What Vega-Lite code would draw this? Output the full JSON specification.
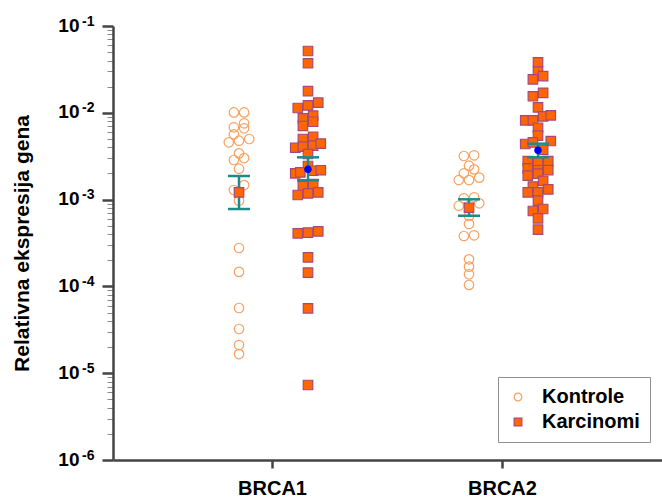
{
  "$schema": "https://vega.github.io/schema/vega-lite/v6.json",
  "width": 549,
  "height": 434,
  "autosize": {"type": "none"},
  "padding": {"left": 113, "top": 26, "right": 0, "bottom": 39},
  "config": {"font": "Liberation Sans", "view": {"stroke": null}},
  "datasets": {
    "pts": [
      {"gene": "BRCA1", "group": "Kontrole", "slot": "K-2", "value": 0.0101},
      {"gene": "BRCA1", "group": "Kontrole", "slot": "K2", "value": 0.0101},
      {"gene": "BRCA1", "group": "Kontrole", "slot": "K2", "value": 0.00757},
      {"gene": "BRCA1", "group": "Kontrole", "slot": "K-2", "value": 0.00681},
      {"gene": "BRCA1", "group": "Kontrole", "slot": "K2", "value": 0.00663},
      {"gene": "BRCA1", "group": "Kontrole", "slot": "K-2", "value": 0.00565},
      {"gene": "BRCA1", "group": "Kontrole", "slot": "K-4", "value": 0.00457},
      {"gene": "BRCA1", "group": "Kontrole", "slot": "K0", "value": 0.00477},
      {"gene": "BRCA1", "group": "Kontrole", "slot": "K4", "value": 0.00499},
      {"gene": "BRCA1", "group": "Kontrole", "slot": "K0", "value": 0.00341},
      {"gene": "BRCA1", "group": "Kontrole", "slot": "K-2", "value": 0.00286},
      {"gene": "BRCA1", "group": "Kontrole", "slot": "K2", "value": 0.00301},
      {"gene": "BRCA1", "group": "Kontrole", "slot": "K0", "value": 0.00227},
      {"gene": "BRCA1", "group": "Kontrole", "slot": "K2", "value": 0.00147},
      {"gene": "BRCA1", "group": "Kontrole", "slot": "K-2", "value": 0.00129},
      {"gene": "BRCA1", "group": "Kontrole", "slot": "K0", "value": 0.000971},
      {"gene": "BRCA1", "group": "Kontrole", "slot": "K0", "value": 0.000277},
      {"gene": "BRCA1", "group": "Kontrole", "slot": "K0", "value": 0.000147},
      {"gene": "BRCA1", "group": "Kontrole", "slot": "K0", "value": 0.0000564},
      {"gene": "BRCA1", "group": "Kontrole", "slot": "K0", "value": 0.0000323},
      {"gene": "BRCA1", "group": "Kontrole", "slot": "K0", "value": 0.0000211},
      {"gene": "BRCA1", "group": "Kontrole", "slot": "K0", "value": 0.0000166},
      {"gene": "BRCA1", "group": "Karcinomi", "slot": "C0", "value": 0.0515},
      {"gene": "BRCA1", "group": "Karcinomi", "slot": "C0", "value": 0.0372},
      {"gene": "BRCA1", "group": "Karcinomi", "slot": "C0", "value": 0.0178},
      {"gene": "BRCA1", "group": "Karcinomi", "slot": "C-4", "value": 0.01136},
      {"gene": "BRCA1", "group": "Karcinomi", "slot": "C0", "value": 0.0122},
      {"gene": "BRCA1", "group": "Karcinomi", "slot": "C4", "value": 0.01307},
      {"gene": "BRCA1", "group": "Karcinomi", "slot": "C-2", "value": 0.00864},
      {"gene": "BRCA1", "group": "Karcinomi", "slot": "C2", "value": 0.00926},
      {"gene": "BRCA1", "group": "Karcinomi", "slot": "C2", "value": 0.00789},
      {"gene": "BRCA1", "group": "Karcinomi", "slot": "C-2", "value": 0.00705},
      {"gene": "BRCA1", "group": "Karcinomi", "slot": "C-2", "value": 0.00499},
      {"gene": "BRCA1", "group": "Karcinomi", "slot": "C2", "value": 0.0053},
      {"gene": "BRCA1", "group": "Karcinomi", "slot": "C-5", "value": 0.00396},
      {"gene": "BRCA1", "group": "Karcinomi", "slot": "C-2", "value": 0.00407},
      {"gene": "BRCA1", "group": "Karcinomi", "slot": "C2", "value": 0.00418},
      {"gene": "BRCA1", "group": "Karcinomi", "slot": "C5", "value": 0.00441},
      {"gene": "BRCA1", "group": "Karcinomi", "slot": "C0", "value": 0.00335},
      {"gene": "BRCA1", "group": "Karcinomi", "slot": "C0", "value": 0.00244},
      {"gene": "BRCA1", "group": "Karcinomi", "slot": "C-5", "value": 0.00201},
      {"gene": "BRCA1", "group": "Karcinomi", "slot": "C-3", "value": 0.00206},
      {"gene": "BRCA1", "group": "Karcinomi", "slot": "C2", "value": 0.00215},
      {"gene": "BRCA1", "group": "Karcinomi", "slot": "C5", "value": 0.00218},
      {"gene": "BRCA1", "group": "Karcinomi", "slot": "C-2", "value": 0.00143},
      {"gene": "BRCA1", "group": "Karcinomi", "slot": "C2", "value": 0.00151},
      {"gene": "BRCA1", "group": "Karcinomi", "slot": "C-4", "value": 0.00113},
      {"gene": "BRCA1", "group": "Karcinomi", "slot": "C0", "value": 0.00118},
      {"gene": "BRCA1", "group": "Karcinomi", "slot": "C4", "value": 0.00121},
      {"gene": "BRCA1", "group": "Karcinomi", "slot": "C-4", "value": 0.000409},
      {"gene": "BRCA1", "group": "Karcinomi", "slot": "C0", "value": 0.000416},
      {"gene": "BRCA1", "group": "Karcinomi", "slot": "C4", "value": 0.000431},
      {"gene": "BRCA1", "group": "Karcinomi", "slot": "C0", "value": 0.000216},
      {"gene": "BRCA1", "group": "Karcinomi", "slot": "C0", "value": 0.000144},
      {"gene": "BRCA1", "group": "Karcinomi", "slot": "C0", "value": 0.0000559},
      {"gene": "BRCA1", "group": "Karcinomi", "slot": "C0", "value": 0.00000731},
      {"gene": "BRCA2", "group": "Kontrole", "slot": "K-2", "value": 0.00318},
      {"gene": "BRCA2", "group": "Kontrole", "slot": "K2", "value": 0.00324},
      {"gene": "BRCA2", "group": "Kontrole", "slot": "K0", "value": 0.00246},
      {"gene": "BRCA2", "group": "Kontrole", "slot": "K-2", "value": 0.00201},
      {"gene": "BRCA2", "group": "Kontrole", "slot": "K2", "value": 0.00223},
      {"gene": "BRCA2", "group": "Kontrole", "slot": "K-4", "value": 0.00168},
      {"gene": "BRCA2", "group": "Kontrole", "slot": "K0", "value": 0.00168},
      {"gene": "BRCA2", "group": "Kontrole", "slot": "K4", "value": 0.00179},
      {"gene": "BRCA2", "group": "Kontrole", "slot": "K-2", "value": 0.001035},
      {"gene": "BRCA2", "group": "Kontrole", "slot": "K2", "value": 0.001063},
      {"gene": "BRCA2", "group": "Kontrole", "slot": "K-4", "value": 0.00085},
      {"gene": "BRCA2", "group": "Kontrole", "slot": "K4", "value": 0.000906},
      {"gene": "BRCA2", "group": "Kontrole", "slot": "K0", "value": 0.000647},
      {"gene": "BRCA2", "group": "Kontrole", "slot": "K0", "value": 0.000524},
      {"gene": "BRCA2", "group": "Kontrole", "slot": "K-2", "value": 0.000381},
      {"gene": "BRCA2", "group": "Kontrole", "slot": "K2", "value": 0.000388},
      {"gene": "BRCA2", "group": "Kontrole", "slot": "K0", "value": 0.000205},
      {"gene": "BRCA2", "group": "Kontrole", "slot": "K0", "value": 0.000169},
      {"gene": "BRCA2", "group": "Kontrole", "slot": "K0", "value": 0.000138},
      {"gene": "BRCA2", "group": "Kontrole", "slot": "K0", "value": 0.000104},
      {"gene": "BRCA2", "group": "Karcinomi", "slot": "C0", "value": 0.0382},
      {"gene": "BRCA2", "group": "Karcinomi", "slot": "C0", "value": 0.0298},
      {"gene": "BRCA2", "group": "Karcinomi", "slot": "C-2", "value": 0.0243},
      {"gene": "BRCA2", "group": "Karcinomi", "slot": "C2", "value": 0.0265},
      {"gene": "BRCA2", "group": "Karcinomi", "slot": "C-2", "value": 0.0155},
      {"gene": "BRCA2", "group": "Karcinomi", "slot": "C2", "value": 0.017},
      {"gene": "BRCA2", "group": "Karcinomi", "slot": "C0", "value": 0.01157},
      {"gene": "BRCA2", "group": "Karcinomi", "slot": "C-5", "value": 0.00819},
      {"gene": "BRCA2", "group": "Karcinomi", "slot": "C-2", "value": 0.00819},
      {"gene": "BRCA2", "group": "Karcinomi", "slot": "C2", "value": 0.00911},
      {"gene": "BRCA2", "group": "Karcinomi", "slot": "C5", "value": 0.00936},
      {"gene": "BRCA2", "group": "Karcinomi", "slot": "C0", "value": 0.00673},
      {"gene": "BRCA2", "group": "Karcinomi", "slot": "C0", "value": 0.00545},
      {"gene": "BRCA2", "group": "Karcinomi", "slot": "C-5", "value": 0.00437},
      {"gene": "BRCA2", "group": "Karcinomi", "slot": "C-2", "value": 0.00457},
      {"gene": "BRCA2", "group": "Karcinomi", "slot": "C5", "value": 0.00473},
      {"gene": "BRCA2", "group": "Karcinomi", "slot": "C2", "value": 0.00373},
      {"gene": "BRCA2", "group": "Karcinomi", "slot": "C-4", "value": 0.00278},
      {"gene": "BRCA2", "group": "Karcinomi", "slot": "C-4", "value": 0.00229},
      {"gene": "BRCA2", "group": "Karcinomi", "slot": "C-4", "value": 0.001885},
      {"gene": "BRCA2", "group": "Karcinomi", "slot": "C0", "value": 0.00269},
      {"gene": "BRCA2", "group": "Karcinomi", "slot": "C0", "value": 0.00218},
      {"gene": "BRCA2", "group": "Karcinomi", "slot": "C0", "value": 0.00199},
      {"gene": "BRCA2", "group": "Karcinomi", "slot": "C4", "value": 0.00278},
      {"gene": "BRCA2", "group": "Karcinomi", "slot": "C4", "value": 0.00219},
      {"gene": "BRCA2", "group": "Karcinomi", "slot": "C2", "value": 0.00164},
      {"gene": "BRCA2", "group": "Karcinomi", "slot": "C-2", "value": 0.00141},
      {"gene": "BRCA2", "group": "Karcinomi", "slot": "C-4", "value": 0.00121},
      {"gene": "BRCA2", "group": "Karcinomi", "slot": "C0", "value": 0.00121},
      {"gene": "BRCA2", "group": "Karcinomi", "slot": "C4", "value": 0.00131},
      {"gene": "BRCA2", "group": "Karcinomi", "slot": "C0", "value": 0.000971},
      {"gene": "BRCA2", "group": "Karcinomi", "slot": "C-2", "value": 0.000739},
      {"gene": "BRCA2", "group": "Karcinomi", "slot": "C2", "value": 0.000779},
      {"gene": "BRCA2", "group": "Karcinomi", "slot": "C0", "value": 0.000609},
      {"gene": "BRCA2", "group": "Karcinomi", "slot": "C0", "value": 0.00045}
    ],
    "summary": [
      {"gene": "BRCA1", "group": "Kontrole", "slot": "K0", "mean": 0.00121, "lo": 0.000779, "hi": 0.00187},
      {"gene": "BRCA1", "group": "Karcinomi", "slot": "C0", "mean": 0.00223, "lo": 0.00167, "hi": 0.00307},
      {"gene": "BRCA2", "group": "Kontrole", "slot": "K0", "mean": 0.000806, "lo": 0.000652, "hi": 0.001008},
      {"gene": "BRCA2", "group": "Karcinomi", "slot": "C0", "mean": 0.0037, "lo": 0.00307, "hi": 0.00441}
    ]
  },
  "resolve": {"axis": {"y": "independent"}},
  "encoding": {
    "x": {
      "field": "gene",
      "type": "nominal",
      "scale": {"type": "band", "paddingInner": 0, "paddingOuter": 0.1935},
      "axis": {
        "title": null,
        "labelAngle": 0,
        "labelFontSize": 20,
        "labelFontWeight": "bold",
        "labelColor": "black",
        "labelPadding": 10,
        "domainColor": "#444444",
        "domainWidth": 2.5,
        "tickColor": "#444444",
        "tickWidth": 2.5,
        "tickSize": 8
      }
    },
    "xOffset": {
      "field": "slot",
      "type": "nominal",
      "scale": {
        "type": "point",
        "padding": 0,
        "domain": ["K-4", "K-3", "K-2", "K-1", "K0", "K1", "K2", "K3", "K4", "s9", "s10", "s11", "s12", "s13", "s14", "s15", "s16", "s17", "s18", "s19", "s20", "s21", "s22", "s23", "s24", "C-6", "C-5", "C-4", "C-3", "C-2", "C-1", "C0", "C1", "C2", "C3", "C4", "C5", "C6"],
        "range": [71.28, 165.84]
      }
    }
  },
  "layer": [
    {
      "data": {"name": "pts"},
      "mark": {"type": "point", "size": 90, "strokeWidth": 1.2, "opacity": 1},
      "encoding": {
        "y": {
          "field": "value",
          "type": "quantitative",
          "scale": {"type": "log", "domain": [0.000001, 0.1], "nice": false},
          "axis": {
            "orient": "left",
            "title": "Relativna ekspresija gena",
            "titleFontSize": 21,
            "titleFontWeight": "bold",
            "titleColor": "black",
            "titleX": -91,
            "titleY": 217,
            "titleAngle": -90,
            "titleAlign": "center",
            "titleBaseline": "middle",
            "grid": false,
            "values": [0.000001, 0.000002, 0.000003, 0.000004, 0.000005, 0.000006, 0.000007, 0.000008, 0.000009, 0.00001, 0.00002, 0.00003, 0.00004, 0.00005, 0.00006, 0.00007, 0.00008, 0.00009, 0.0001, 0.0002, 0.0003, 0.0004, 0.0005, 0.0006, 0.0007, 0.0008, 0.0009, 0.001, 0.002, 0.003, 0.004, 0.005, 0.006, 0.007, 0.008, 0.009, 0.01, 0.02, 0.03, 0.04, 0.05, 0.06, 0.07, 0.08, 0.09, 0.1],
            "labelExpr": "abs(log(datum.value)/LN10 - round(log(datum.value)/LN10)) < 0.001 ? '10' : ''",
            "labelOverlap": false,
            "labelFlush": false,
            "labelFontSize": 19,
            "labelFontWeight": "bold",
            "labelColor": "black",
            "labelPadding": 23,
            "labelOffset": -1,
            "domainColor": "#444444",
            "domainWidth": 2.5,
            "tickColor": {"condition": {"test": "abs(log(datum.value)/LN10 - round(log(datum.value)/LN10)) < 0.001", "value": "#444444"}, "value": "#888888"},
            "tickWidth": {"condition": {"test": "abs(log(datum.value)/LN10 - round(log(datum.value)/LN10)) < 0.001", "value": 2.5}, "value": 1},
            "tickSize": {"condition": {"test": "abs(log(datum.value)/LN10 - round(log(datum.value)/LN10)) < 0.001", "value": 11}, "value": 6}
          }
        },
        "shape": {
          "field": "group",
          "type": "nominal",
          "scale": {"domain": ["Kontrole", "Karcinomi"], "range": ["circle", "square"]},
          "legend": {
            "title": null,
            "orient": "none",
            "legendX": 385,
            "legendY": 351,
            "strokeColor": "#909090",
            "fillColor": "white",
            "padding": 10,
            "rowPadding": 5,
            "labelFontSize": 20,
            "labelFontWeight": "bold",
            "labelColor": "black",
            "labelOffset": 14,
            "symbolSize": 60,
            "symbolStrokeWidth": 1.2,
            "labelExpr": "datum.label + '\u00a0\u00a0\u00a0\u00a0\u00a0\u00a0\u00a0\u00a0'"
          }
        },
        "fill": {
          "field": "group",
          "type": "nominal",
          "scale": {"domain": ["Kontrole", "Karcinomi"], "range": ["transparent", "#FF6600"]}
        },
        "stroke": {
          "field": "group",
          "type": "nominal",
          "scale": {"domain": ["Kontrole", "Karcinomi"], "range": ["#F9A05E", "#A8487A"]}
        }
      }
    },
    {
      "data": {"name": "summary"},
      "mark": {"type": "rule", "color": "#1F8A8A", "strokeWidth": 2.5},
      "encoding": {
        "y": {
          "field": "lo",
          "type": "quantitative",
          "axis": {
            "orient": "left",
            "title": null,
            "grid": false,
            "domain": false,
            "values": [0.000001, 0.00001, 0.0001, 0.001, 0.01, 0.1],
            "labelExpr": "'-' + round(-log(datum.value)/LN10)",
            "labelOverlap": false,
            "labelFlush": false,
            "labelFontSize": 14,
            "labelFontWeight": "bold",
            "labelColor": "black",
            "labelPadding": 8,
            "labelOffset": -5,
            "tickSize": 11,
            "tickOpacity": 0
          }
        },
        "y2": {"field": "hi"}
      }
    },
    {
      "data": {"name": "summary"},
      "mark": {"type": "point", "shape": "M-1,0L1,0", "size": 484, "stroke": "#1F8A8A", "strokeWidth": 2.5, "opacity": 1},
      "encoding": {
        "y": {"field": "lo", "type": "quantitative", "axis": null}
      }
    },
    {
      "data": {"name": "summary"},
      "mark": {"type": "point", "shape": "M-1,0L1,0", "size": 484, "stroke": "#1F8A8A", "strokeWidth": 2.5, "opacity": 1},
      "encoding": {
        "y": {"field": "hi", "type": "quantitative", "axis": null}
      }
    },
    {
      "data": {"name": "summary"},
      "mark": {"type": "point", "opacity": 1, "strokeWidth": 1.2},
      "encoding": {
        "y": {"field": "mean", "type": "quantitative", "axis": null},
        "shape": {"condition": {"test": "datum.group === 'Kontrole'", "value": "square"}, "value": "circle"},
        "fill": {"condition": {"test": "datum.group === 'Kontrole'", "value": "#FF6600"}, "value": "#0000FF"},
        "stroke": {"condition": {"test": "datum.group === 'Kontrole'", "value": "#A8487A"}, "value": "#0000FF"},
        "size": {"condition": {"test": "datum.group === 'Kontrole'", "value": 90}, "value": 40}
      }
    }
  ]
}
